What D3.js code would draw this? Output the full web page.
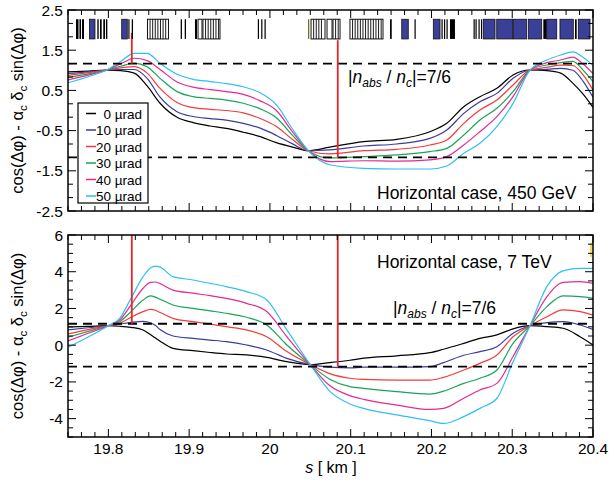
<!DOCTYPE html>
<html>
<head>
<meta charset="utf-8">
<script src="https://cdn.jsdelivr.net/npm/d3@7"></script>
<style>
  body { margin: 0; background: #fff; }
  svg { display: block; font-family: "Liberation Sans", Arial, Helvetica, sans-serif; }
</style>
</head>
<body>
<div id="chart"></div>
<script>
// cos(dphi) - alpha_c delta_c sin(dphi) along s, for six crossing angles.
// Values.

const angleLabels = ['0 µrad', '10 µrad', '20 µrad', '30 µrad', '40 µrad', '50 µrad'];
const seriesColors = ['#000000', '#3b3b9c', '#f23b3b', '#17a456', '#e62a8c', '#2ec0f2'];

// top panel: 450 GeV
const sTop = [19.75, 19.775, 19.798, 19.815, 19.832, 19.848, 19.864, 19.885, 19.905, 19.926, 19.946,
  19.967, 19.988, 20.008, 20.028, 20.0475, 20.074, 20.116, 20.157, 20.198, 20.219, 20.240, 20.260,
  20.281, 20.301, 20.322, 20.343, 20.36, 20.375, 20.388, 20.4];
const top0 = [0.96, 0.98, 1.005, 0.99, 0.93, 0.61, 0.18, -0.17, -0.30, -0.385, -0.444, -0.54, -0.651, -0.80,
  -0.91, -1.0, -0.91, -0.775, -0.717, -0.527, -0.319, 0.095, 0.344, 0.551, 0.883, 1.007, 0.99, 0.93, 0.68, 0.40, 0.08];
const top10 = [0.92, 0.96, 1.007, 1.02, 1.02, 0.80, 0.33, -0.03, -0.15, -0.20, -0.24, -0.32, -0.44, -0.62,
  -0.83, -1.0, -0.98, -0.883, -0.833, -0.692, -0.485, -0.071, 0.219, 0.426, 0.80, 1.007, 1.024, 1.05, 1.0, 0.72, 0.33];
const top20 = [0.875, 0.94, 1.007, 1.06, 1.09, 0.93, 0.55, 0.20, 0.07, 0.03, 0.0, -0.06, -0.20, -0.40,
  -0.72, -1.0, -1.08, -1.0, -0.965, -0.858, -0.733, -0.319, 0.012, 0.261, 0.634, 1.007, 1.074, 1.13, 1.12, 0.88, 0.51];
const top30 = [0.817, 0.91, 1.007, 1.10, 1.18, 1.09, 0.80, 0.47, 0.344, 0.30, 0.26, 0.18, 0.04, -0.18,
  -0.62, -1.0, -1.18, -1.148, -1.106, -1.023, -0.941, -0.609, -0.236, 0.054, 0.468, 1.007, 1.132, 1.19, 1.22, 1.0, 0.72];
const top40 = [0.76, 0.88, 1.007, 1.16, 1.30, 1.24, 1.02, 0.71, 0.58, 0.52, 0.47, 0.40, 0.24, 0.0,
  -0.53, -1.0, -1.27, -1.25, -1.26, -1.23, -1.148, -0.858, -0.527, -0.154, 0.344, 1.007, 1.19, 1.256, 1.33, 1.15, 0.92];
const top50 = [0.69, 0.84, 1.007, 1.22, 1.42, 1.42, 1.17, 0.90, 0.776, 0.72, 0.67, 0.59, 0.44, 0.14,
  -0.46, -1.0, -1.35, -1.438, -1.455, -1.455, -1.38, -1.065, -0.816, -0.402, 0.178, 1.007, 1.256, 1.38, 1.46, 1.32, 1.12];

// bottom panel: 7 TeV
const sBot = [19.75, 19.775, 19.80, 19.814, 19.828, 19.843, 19.852, 19.858, 19.864, 19.88, 19.905, 19.926,
  19.946, 19.971, 19.996, 20.021, 20.05, 20.074, 20.099, 20.116, 20.157, 20.198, 20.215, 20.24, 20.26,
  20.281, 20.301, 20.322, 20.343, 20.363, 20.384, 20.4];
const bot0 = [0.99, 1.02, 1.06, 1.03, 0.97, 0.83, 0.58, 0.40, 0.22, -0.17, -0.30, -0.40, -0.48, -0.53, -0.66,
  -0.90, -1.06, -0.95, -0.82, -0.71, -0.58, -0.41, -0.22, 0.10, 0.37, 0.56, 0.89, 1.06, 1.01, 0.92, 0.46, 0.01];
const bot10 = [0.83, 0.95, 1.06, 1.15, 1.24, 1.30, 1.22, 1.08, 0.85, 0.50, 0.37, 0.28, 0.19, 0.01, -0.26,
  -0.72, -1.06, -1.2, -1.24, -1.2, -1.2, -1.17, -0.95, -0.55, -0.35, -0.08, 0.65, 1.06, 1.23, 1.28, 1.10, 0.86];
const bot20 = [0.61, 0.85, 1.06, 1.19, 1.52, 1.83, 1.95, 1.90, 1.78, 1.46, 1.28, 1.15, 1.01, 0.83, 0.46,
  -0.35, -1.06, -1.55, -1.80, -1.86, -1.90, -1.90, -1.75, -1.35, -0.99, -0.53, 0.46, 1.06, 1.55, 1.92, 1.83, 1.64];
const bot30 = [0.43, 0.75, 1.06, 1.28, 1.83, 2.46, 2.68, 2.62, 2.50, 2.19, 2.0, 1.87, 1.74, 1.52, 1.10,
  0.01, -1.06, -1.85, -2.26, -2.35, -2.53, -2.66, -2.5, -2.08, -1.80, -1.35, 0.10, 1.06, 2.10, 2.68, 2.64, 2.55];
const bot40 = [0.23, 0.65, 1.06, 1.37, 2.19, 3.10, 3.42, 3.44, 3.35, 3.0, 2.83, 2.70, 2.55, 2.28, 1.83,
  0.46, -1.06, -2.2, -2.75, -2.95, -3.26, -3.5, -3.44, -2.89, -2.44, -2.08, -0.62, 1.06, 2.64, 3.42, 3.46, 3.37];
const bot50 = [-0.11, 0.45, 1.06, 1.46, 2.55, 3.73, 4.2, 4.31, 4.25, 3.73, 3.55, 3.37, 3.19, 2.92, 2.46,
  0.83, -1.06, -2.5, -3.2, -3.44, -3.8, -4.11, -4.26, -3.89, -3.44, -2.89, -0.9, 1.06, 3.2, 4.05, 4.18, 4.18];

// |n_abs / n_c| = 7/6 level
const nRatio = 7 / 6;

// red markers (s position, top-panel start value, level they drop to)
const redS = [19.829, 20.084];
const redTopStart = [1.93, 1.75];
const redEnd = [nRatio, -nRatio];

// magnet layout strip in the top panel: [s start, s end, kind]
// k = black line, b = blue block, w = white block, h = hatched block, y = olive line
const magnets = [
  [19.7599, 19.7630, 'k'], [19.7642, 19.7661, 'k'], [19.7673, 19.7698, 'k'],
  [19.7766, 19.7834, 'b'],
  [19.7863, 19.7880, 'k'], [19.7896, 19.7917, 'k'], [19.7937, 19.7958, 'k'], [19.7970, 19.7987, 'k'],
  [19.8165, 19.8234, 'b'], [19.8247, 19.8259, 'k'], [19.8289, 19.8305, 'k'],
  [19.8484, 19.8744, 'h'],
  [19.8895, 19.8911, 'k'], [19.8945, 19.8961, 'k'],
  [19.9072, 19.9097, 'k'], [19.9110, 19.9159, 'w'], [19.9171, 19.9382, 'h'],
  [19.9850, 19.9862, 'k'], [19.9892, 19.9904, 'k'], [19.9933, 19.9945, 'k'],
  [20.0472, 20.0484, 'y'], [20.0509, 20.0682, 'h'], [20.0707, 20.0769, 'w'], [20.0781, 20.0868, 'h'],
  [20.0991, 20.1400, 'h'],
  [20.1487, 20.1508, 'k'],
  [20.1632, 20.1713, 'b'], [20.1790, 20.1802, 'k'],
  [20.2023, 20.2106, 'b'], [20.2124, 20.2136, 'k'], [20.2155, 20.2167, 'k'], [20.2186, 20.2198, 'k'], [20.2229, 20.2291, 'k'],
  [20.2521, 20.2533, 'k'], [20.2545, 20.2557, 'k'], [20.2582, 20.2594, 'k'], [20.2613, 20.2625, 'k'],
  [20.2642, 20.2787, 'b'], [20.2808, 20.3006, 'b'], [20.3013, 20.3179, 'b'], [20.3199, 20.3365, 'b'],
  [20.3385, 20.3427, 'k'], [20.3427, 20.3551, 'b'], [20.3591, 20.3756, 'b'], [20.3777, 20.3798, 'k'],
  [20.3818, 20.3963, 'b']
];
const stripRange = [1.78, 2.27];

// tick values
const xMajor = [19.8, 19.9, 20.0, 20.1, 20.2, 20.3, 20.4];
const xMinor = d3.range(-3, 37).filter(k => k % 6 !== 0).map(k => 19.8 + k / 60);
const yTopMajor = [2.5, 1.5, 0.5, -0.5, -1.5, -2.5];
const yTopMinor = d3.range(-7, 8).filter(k => (k + 7) % 3 !== 0).map(k => 2.5 - (k + 7) / 3);
const yBotMajor = [6, 4, 2, 0, -2, -4];
const yBotMinor = d3.range(-5, 6.01, 0.5).filter(v => v % 2 !== 0);

const topSeries = [top0, top10, top20, top30, top40, top50];
const botSeries = [bot0, bot10, bot20, bot30, bot40, bot50];

// ---------------------------------------------------------------------------
const W = 609, H = 483;
const svg = d3.select('#chart').append('svg').attr('width', W).attr('height', H);

const x = d3.scaleLinear().domain([19.75, 20.4]).range([68, 593]);
const yTop = d3.scaleLinear().domain([-2.5, 2.5]).range([211, 10]);
const yBot = d3.scaleLinear().domain([-5, 6]).range([437, 235]);

const defs = svg.append('defs');

function drawPanel(id, y, sArr, series) {
  const [x0, x1] = x.range();
  const [yb, yt] = y.range();
  defs.append('clipPath').attr('id', id)
    .append('rect').attr('x', x0).attr('y', yt).attr('width', x1 - x0).attr('height', yb - yt);
  const g = svg.append('g').attr('clip-path', `url(#${id})`);

  const line = d3.line()
    .x((d, i) => x(sArr[i]))
    .y(d => y(d))
    .curve(d3.curveMonotoneX);

  series.forEach((vals, i) => {
    g.append('path')
      .attr('d', line(vals))
      .attr('fill', 'none')
      .attr('stroke', seriesColors[i])
      .attr('stroke-width', 1.2);
  });

  // |n_abs/n_c| = 7/6 levels
  [nRatio, -nRatio].forEach(v => {
    g.append('line')
      .attr('x1', x0).attr('x2', x1)
      .attr('y1', y(v)).attr('y2', y(v))
      .attr('stroke', '#000').attr('stroke-width', 1.8)
      .attr('stroke-dasharray', '9,6');
  });
  return g;
}

const gTop = drawPanel('clipTop', yTop, sTop, topSeries);
const gBot = drawPanel('clipBot', yBot, sBot, botSeries);

// red markers
redS.forEach((s, i) => {
  gTop.append('line')
    .attr('x1', x(s)).attr('x2', x(s))
    .attr('y1', yTop(redTopStart[i])).attr('y2', yTop(redEnd[i]))
    .attr('stroke', '#e8262c').attr('stroke-width', 1.8);
  gBot.append('line')
    .attr('x1', x(s)).attr('x2', x(s))
    .attr('y1', yBot(6)).attr('y2', yBot(redEnd[i]))
    .attr('stroke', '#e8262c').attr('stroke-width', 1.8);
});

// small yellow mark at the top right of the lower panel
gBot.append('line')
  .attr('x1', x(20.3975)).attr('x2', x(20.3975))
  .attr('y1', yBot(5.57)).attr('y2', yBot(4.8))
  .attr('stroke', '#f2d21e').attr('stroke-width', 1.5);

// magnet strip
const sy0 = yTop(stripRange[1]), sy1 = yTop(stripRange[0]);
magnets.forEach(m => {
  const a = x(m[0]);
  const w = Math.max(x(m[1]) - a, 1.2);
  const kind = m[2];
  if (kind === 'k' || kind === 'y') {
    gTop.append('rect').attr('x', a).attr('y', sy0).attr('width', w).attr('height', sy1 - sy0)
      .attr('fill', kind === 'k' ? '#000' : '#6e6420');
  } else {
    gTop.append('rect').attr('x', a).attr('y', sy0).attr('width', w).attr('height', sy1 - sy0)
      .attr('fill', kind === 'b' ? '#3a3f98' : '#fff')
      .attr('stroke', '#111').attr('stroke-width', kind === 'b' ? 0.8 : 1);
    if (kind === 'h') {
      for (let xx = a + 2.6; xx < a + w - 1; xx += 2.6) {
        gTop.append('line').attr('x1', xx).attr('x2', xx).attr('y1', sy0).attr('y2', sy1)
          .attr('stroke', '#000').attr('stroke-width', 0.9);
      }
    }
  }
});

// frames and ticks
function frame(y, yMajor, yMinor, labelX) {
  const [x0, x1] = x.range();
  const [yb, yt] = y.range();
  const g = svg.append('g');
  const tick = (x1_, y1_, x2_, y2_) => g.append('line')
    .attr('x1', x1_).attr('y1', y1_).attr('x2', x2_).attr('y2', y2_)
    .attr('stroke', '#000').attr('stroke-width', 1);

  xMajor.forEach(v => { tick(x(v), yb, x(v), yb - 8); tick(x(v), yt, x(v), yt + 8); });
  xMinor.forEach(v => { tick(x(v), yb, x(v), yb - 5); tick(x(v), yt, x(v), yt + 5); });
  yMajor.forEach(v => { tick(x0, y(v), x0 + 8, y(v)); tick(x1, y(v), x1 - 8, y(v)); });
  yMinor.forEach(v => { tick(x0, y(v), x0 + 5, y(v)); tick(x1, y(v), x1 - 5, y(v)); });

  g.append('rect').attr('x', x0).attr('y', yt).attr('width', x1 - x0).attr('height', yb - yt)
    .attr('fill', 'none').attr('stroke', '#000').attr('stroke-width', 1.5);

  yMajor.forEach(v => {
    g.append('text').attr('x', 63).attr('y', y(v) + 5.5)
      .attr('text-anchor', 'end').attr('font-size', 15.5).text(String(v));
  });
  if (labelX) {
    xMajor.forEach(v => {
      g.append('text').attr('x', x(v)).attr('y', yb + 17)
        .attr('text-anchor', 'middle').attr('font-size', 15.5).text(String(+v.toFixed(1)));
    });
  }

  // rotated y title
  const cy = (yb + yt) / 2;
  const t = g.append('text')
    .attr('x', 23).attr('y', cy)
    .attr('transform', `rotate(-90,23,${cy})`)
    .attr('text-anchor', 'middle').attr('font-size', 16.5);
  t.append('tspan').text('cos(Δφ) - α');
  t.append('tspan').attr('dy', 4).attr('font-size', 11.5).text('c');
  t.append('tspan').attr('dy', -4).text(' δ');
  t.append('tspan').attr('dy', 4).attr('font-size', 11.5).text('c');
  t.append('tspan').attr('dy', -4).text(' sin(Δφ)');
}

frame(yTop, yTopMajor, yTopMinor, false);
frame(yBot, yBotMajor, yBotMinor, true);

// x title
const xt = svg.append('text').attr('x', 331).attr('y', 473)
  .attr('text-anchor', 'middle').attr('font-size', 16);
xt.append('tspan').attr('font-style', 'italic').text('s');
xt.append('tspan').text(' [ km ]');

// annotations
function ratioLabel(px, py) {
  const t = svg.append('text').attr('x', px).attr('y', py).attr('font-size', 17.5);
  t.append('tspan').text('|');
  t.append('tspan').attr('font-style', 'italic').text('n');
  t.append('tspan').attr('font-style', 'italic').attr('font-size', 12).attr('dy', 4).text('abs');
  t.append('tspan').attr('dy', -4).text(' / ');
  t.append('tspan').attr('font-style', 'italic').text('n');
  t.append('tspan').attr('font-style', 'italic').attr('font-size', 12).attr('dy', 4).text('c');
  t.append('tspan').attr('dy', -4).text('|=7/6');
}
ratioLabel(348, 83);
ratioLabel(393, 314);

svg.append('text').attr('x', 377).attr('y', 199).attr('font-size', 17.5).text('Horizontal case, 450 GeV');
svg.append('text').attr('x', 377).attr('y', 268).attr('font-size', 17.5).text('Horizontal case, 7 TeV');

// legend
const lg = svg.append('g');
lg.append('rect').attr('x', 78).attr('y', 103).attr('width', 70).attr('height', 100)
  .attr('fill', '#fff').attr('stroke', '#000').attr('stroke-width', 1.2);
angleLabels.forEach((lab, i) => {
  const cy = 113.5 + i * 16.5;
  lg.append('line').attr('x1', 86).attr('x2', 96).attr('y1', cy).attr('y2', cy)
    .attr('stroke', seriesColors[i]).attr('stroke-width', 1.5);
  lg.append('text').attr('x', 142).attr('y', cy + 5)
    .attr('text-anchor', 'end').attr('font-size', 13.5).text(lab);
});
</script>
</body>
</html>
